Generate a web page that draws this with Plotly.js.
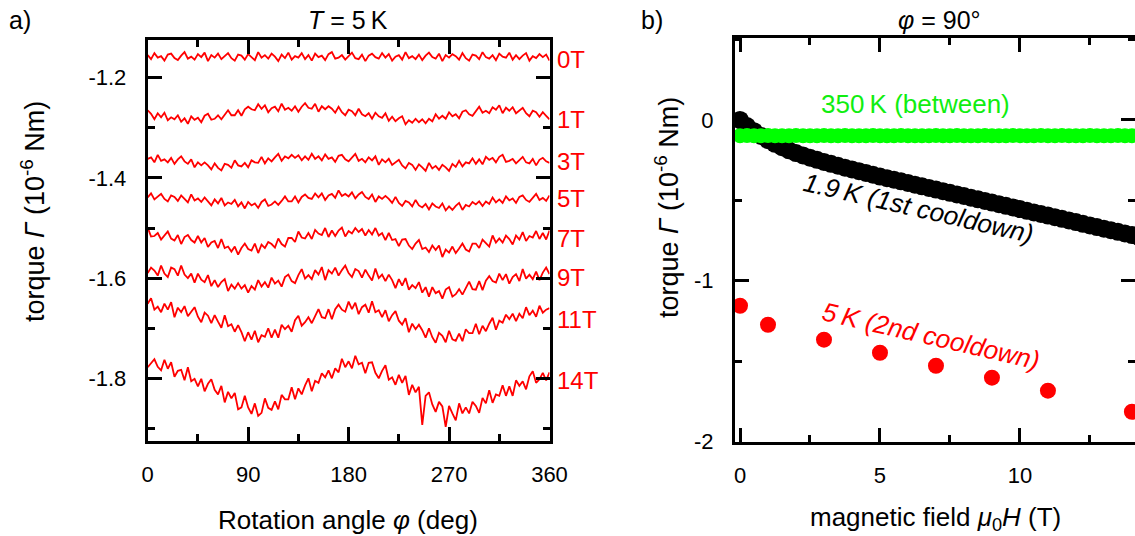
<!DOCTYPE html>
<html><head><meta charset="utf-8">
<script src="https://cdn.plot.ly/plotly-3.0.1.min.js"></script>
<style>html,body{margin:0;padding:0;background:#fff}</style>
</head><body><div id="chart" style="width:1135px;height:536px"></div>
<script>
// ---------- data: panel a) torque vs rotation angle at T = 5 K ----------
const angle = [0,3,6,9,12,15,18,21,24,27,30,33,36,39,42,45,48,51,54,57,60,63,66,69,72,75,78,81,84,87,
90,93,96,99,102,105,108,111,114,117,120,123,126,129,132,135,138,141,144,147,150,153,156,159,162,165,168,171,174,177,
180,183,186,189,192,195,198,201,204,207,210,213,216,219,222,225,228,231,234,237,240,243,246,249,252,255,258,261,264,267,
270,273,276,279,282,285,288,291,294,297,300,303,306,309,312,315,318,321,324,327,330,333,336,339,342,345,348,351,354,357,360];

const torque0T = [-1.155,-1.163,-1.151,-1.160,-1.157,-1.166,-1.154,-1.152,-1.161,-1.165,
-1.156,-1.149,-1.162,-1.158,-1.164,-1.153,-1.159,-1.150,-1.167,-1.155,
-1.160,-1.152,-1.163,-1.157,-1.151,-1.161,-1.166,-1.154,-1.156,-1.164,
-1.153,-1.159,-1.165,-1.149,-1.160,-1.155,-1.162,-1.152,-1.158,-1.167,
-1.154,-1.161,-1.150,-1.164,-1.157,-1.160,-1.151,-1.163,-1.155,-1.166,
-1.152,-1.159,-1.156,-1.165,-1.153,-1.149,-1.162,-1.160,-1.155,-1.164,
-1.157,-1.150,-1.161,-1.163,-1.154,-1.167,-1.156,-1.152,-1.159,-1.162,
-1.151,-1.160,-1.153,-1.166,-1.158,-1.155,-1.164,-1.149,-1.161,-1.157,
-1.163,-1.154,-1.165,-1.156,-1.150,-1.159,-1.162,-1.152,-1.167,-1.155,
-1.160,-1.153,-1.157,-1.164,-1.151,-1.161,-1.166,-1.154,-1.156,-1.163,
-1.149,-1.159,-1.162,-1.155,-1.165,-1.152,-1.158,-1.160,-1.150,-1.164,
-1.155,-1.163,-1.156,-1.151,-1.166,-1.157,-1.161,-1.153,-1.159,-1.154,-1.166];

const torque1T = [-1.265,-1.272,-1.283,-1.271,-1.279,-1.270,-1.285,-1.279,-1.283,-1.275,
-1.288,-1.281,-1.292,-1.277,-1.284,-1.280,-1.289,-1.276,-1.272,-1.284,
-1.282,-1.275,-1.283,-1.274,-1.265,-1.275,-1.275,-1.265,-1.276,-1.263,
-1.258,-1.263,-1.265,-1.253,-1.262,-1.255,-1.269,-1.261,-1.258,-1.267,
-1.252,-1.264,-1.260,-1.266,-1.257,-1.268,-1.258,-1.251,-1.260,-1.262,
-1.252,-1.268,-1.257,-1.263,-1.257,-1.262,-1.270,-1.258,-1.269,-1.275,
-1.264,-1.267,-1.275,-1.262,-1.273,-1.277,-1.271,-1.282,-1.270,-1.277,
-1.280,-1.271,-1.286,-1.278,-1.287,-1.281,-1.277,-1.293,-1.285,-1.290,
-1.282,-1.289,-1.283,-1.291,-1.282,-1.287,-1.273,-1.282,-1.276,-1.282,
-1.269,-1.277,-1.273,-1.281,-1.268,-1.265,-1.273,-1.276,-1.266,-1.258,
-1.270,-1.266,-1.271,-1.259,-1.264,-1.255,-1.271,-1.260,-1.266,-1.259,
-1.271,-1.266,-1.260,-1.271,-1.277,-1.266,-1.269,-1.278,-1.269,-1.276,-1.283];

const torque3T = [-1.362,-1.359,-1.369,-1.354,-1.366,-1.363,-1.369,-1.360,-1.372,-1.363,
-1.357,-1.367,-1.372,-1.363,-1.379,-1.369,-1.375,-1.369,-1.375,-1.383,
-1.371,-1.380,-1.385,-1.372,-1.374,-1.380,-1.365,-1.375,-1.377,-1.370,
-1.379,-1.365,-1.369,-1.370,-1.358,-1.371,-1.361,-1.367,-1.359,-1.352,
-1.366,-1.357,-1.361,-1.354,-1.360,-1.355,-1.365,-1.357,-1.364,-1.352,
-1.362,-1.357,-1.365,-1.353,-1.362,-1.359,-1.368,-1.356,-1.354,-1.363,
-1.367,-1.359,-1.352,-1.366,-1.362,-1.369,-1.359,-1.365,-1.357,-1.374,
-1.363,-1.369,-1.362,-1.374,-1.369,-1.364,-1.375,-1.381,-1.370,-1.374,
-1.384,-1.373,-1.379,-1.386,-1.370,-1.381,-1.376,-1.384,-1.374,-1.379,
-1.386,-1.372,-1.378,-1.366,-1.377,-1.369,-1.371,-1.361,-1.372,-1.363,
-1.373,-1.358,-1.364,-1.360,-1.369,-1.358,-1.354,-1.368,-1.366,-1.362,
-1.371,-1.364,-1.358,-1.369,-1.371,-1.362,-1.375,-1.364,-1.360,-1.367,-1.370];

const torque5T = [-1.439,-1.431,-1.443,-1.437,-1.432,-1.442,-1.447,-1.435,-1.438,-1.446,
-1.435,-1.442,-1.449,-1.433,-1.445,-1.441,-1.448,-1.439,-1.446,-1.455,
-1.443,-1.451,-1.440,-1.455,-1.449,-1.452,-1.444,-1.457,-1.449,-1.461,
-1.448,-1.455,-1.451,-1.460,-1.448,-1.443,-1.456,-1.453,-1.447,-1.454,
-1.446,-1.437,-1.447,-1.447,-1.437,-1.449,-1.438,-1.433,-1.440,-1.442,
-1.431,-1.439,-1.431,-1.444,-1.435,-1.432,-1.440,-1.425,-1.436,-1.432,
-1.437,-1.429,-1.441,-1.433,-1.428,-1.438,-1.442,-1.433,-1.448,-1.437,
-1.442,-1.436,-1.442,-1.450,-1.438,-1.450,-1.456,-1.446,-1.449,-1.457,
-1.444,-1.455,-1.459,-1.452,-1.463,-1.451,-1.457,-1.460,-1.451,-1.465,
-1.457,-1.464,-1.456,-1.450,-1.464,-1.454,-1.457,-1.448,-1.453,-1.447,
-1.456,-1.447,-1.452,-1.439,-1.449,-1.443,-1.450,-1.437,-1.445,-1.441,
-1.450,-1.438,-1.435,-1.444,-1.448,-1.439,-1.432,-1.444,-1.440,-1.446,-1.435];

const torque7T = [-1.499,-1.517,-1.516,-1.510,-1.523,-1.515,-1.507,-1.521,-1.525,-1.514,
-1.532,-1.518,-1.514,-1.524,-1.529,-1.516,-1.529,-1.520,-1.538,-1.529,
-1.526,-1.540,-1.522,-1.540,-1.537,-1.547,-1.537,-1.553,-1.540,-1.531,
-1.542,-1.545,-1.531,-1.550,-1.533,-1.540,-1.528,-1.532,-1.539,-1.521,
-1.532,-1.537,-1.520,-1.520,-1.528,-1.507,-1.519,-1.521,-1.510,-1.522,
-1.504,-1.511,-1.514,-1.500,-1.518,-1.505,-1.516,-1.505,-1.499,-1.517,
-1.506,-1.511,-1.500,-1.508,-1.502,-1.515,-1.504,-1.513,-1.500,-1.515,
-1.510,-1.524,-1.510,-1.524,-1.522,-1.536,-1.523,-1.522,-1.535,-1.542,
-1.531,-1.524,-1.542,-1.539,-1.548,-1.535,-1.544,-1.535,-1.558,-1.543,
-1.549,-1.537,-1.550,-1.541,-1.531,-1.543,-1.547,-1.531,-1.531,-1.540,
-1.523,-1.530,-1.537,-1.515,-1.529,-1.521,-1.529,-1.515,-1.522,-1.533,
-1.515,-1.523,-1.508,-1.526,-1.516,-1.519,-1.506,-1.522,-1.510,-1.523,-1.505];

const torque9T = [-1.590,-1.579,-1.585,-1.595,-1.575,-1.591,-1.598,-1.579,-1.582,-1.595,
-1.575,-1.593,-1.600,-1.591,-1.609,-1.591,-1.603,-1.608,-1.594,-1.616,
-1.604,-1.618,-1.608,-1.602,-1.626,-1.613,-1.621,-1.610,-1.621,-1.614,
-1.629,-1.616,-1.623,-1.604,-1.617,-1.608,-1.619,-1.599,-1.611,-1.605,
-1.617,-1.598,-1.593,-1.606,-1.610,-1.594,-1.582,-1.601,-1.594,-1.602,
-1.584,-1.593,-1.578,-1.604,-1.584,-1.591,-1.579,-1.595,-1.584,-1.575,
-1.590,-1.598,-1.582,-1.586,-1.599,-1.583,-1.595,-1.605,-1.581,-1.600,
-1.593,-1.606,-1.593,-1.604,-1.620,-1.602,-1.615,-1.600,-1.623,-1.614,
-1.620,-1.608,-1.629,-1.618,-1.637,-1.618,-1.630,-1.626,-1.641,-1.623,
-1.618,-1.637,-1.632,-1.622,-1.633,-1.620,-1.607,-1.622,-1.623,-1.606,
-1.624,-1.605,-1.596,-1.606,-1.609,-1.591,-1.604,-1.592,-1.611,-1.598,
-1.592,-1.606,-1.582,-1.601,-1.593,-1.602,-1.587,-1.604,-1.589,-1.579,-1.592];

const torque11T = [-1.651,-1.640,-1.663,-1.657,-1.668,-1.651,-1.663,-1.648,-1.678,-1.659,
-1.668,-1.656,-1.676,-1.666,-1.658,-1.677,-1.688,-1.669,-1.675,-1.690,
-1.674,-1.687,-1.699,-1.674,-1.696,-1.692,-1.707,-1.694,-1.708,-1.726,
-1.708,-1.723,-1.705,-1.728,-1.714,-1.717,-1.700,-1.719,-1.703,-1.719,
-1.693,-1.702,-1.695,-1.707,-1.684,-1.675,-1.695,-1.688,-1.678,-1.690,
-1.676,-1.662,-1.678,-1.680,-1.662,-1.682,-1.662,-1.653,-1.663,-1.667,
-1.647,-1.662,-1.649,-1.672,-1.658,-1.653,-1.669,-1.646,-1.668,-1.664,
-1.678,-1.664,-1.686,-1.674,-1.666,-1.685,-1.693,-1.680,-1.708,-1.691,
-1.702,-1.693,-1.704,-1.719,-1.700,-1.718,-1.729,-1.709,-1.715,-1.728,
-1.705,-1.722,-1.725,-1.711,-1.726,-1.702,-1.710,-1.710,-1.691,-1.712,
-1.695,-1.706,-1.691,-1.679,-1.703,-1.685,-1.689,-1.673,-1.682,-1.671,
-1.686,-1.671,-1.680,-1.658,-1.674,-1.665,-1.677,-1.655,-1.669,-1.663,-1.660];

const torque14T = [-1.778,-1.770,-1.762,-1.777,-1.784,-1.763,-1.781,-1.768,-1.797,-1.785,
-1.783,-1.804,-1.778,-1.806,-1.801,-1.816,-1.801,-1.826,-1.811,-1.802,
-1.823,-1.832,-1.815,-1.848,-1.827,-1.840,-1.829,-1.862,-1.858,-1.835,
-1.858,-1.871,-1.850,-1.875,-1.869,-1.840,-1.859,-1.863,-1.846,-1.862,
-1.833,-1.842,-1.842,-1.818,-1.842,-1.820,-1.832,-1.814,-1.800,-1.826,
-1.805,-1.809,-1.790,-1.798,-1.784,-1.800,-1.780,-1.788,-1.761,-1.778,
-1.766,-1.780,-1.755,-1.772,-1.769,-1.790,-1.769,-1.768,-1.789,-1.800,
-1.785,-1.774,-1.803,-1.798,-1.813,-1.793,-1.809,-1.795,-1.833,-1.813,
-1.828,-1.817,-1.893,-1.835,-1.828,-1.852,-1.867,-1.847,-1.856,-1.897,
-1.855,-1.870,-1.884,-1.850,-1.870,-1.858,-1.870,-1.847,-1.855,-1.869,
-1.839,-1.850,-1.824,-1.849,-1.832,-1.835,-1.814,-1.835,-1.816,-1.835,
-1.804,-1.815,-1.806,-1.822,-1.796,-1.786,-1.809,-1.802,-1.789,-1.804,-1.788];

const fieldLabels = ['0T','1T','3T','5T','7T','9T','11T','14T'];
const angleTicks = [0,90,180,270,360];
const angleTickText = ['0','90','180','270','360'];
const torqueTicksA = [-1.2,-1.4,-1.6,-1.8];
const torqueTickTextA = ['-1.2','-1.4','-1.6','-1.8'];

// ---------- data: panel b) torque vs field at phi = 90 deg ----------
const field19K = [0,0.25,0.5,0.75,1,1.25,1.5,1.75,2,2.25,2.5,2.75,3,3.25,3.5,3.75,4,4.25,4.5,4.75,
5,5.25,5.5,5.75,6,6.25,6.5,6.75,7,7.25,7.5,7.75,8,8.25,8.5,8.75,9,9.25,9.5,9.75,
10,10.25,10.5,10.75,11,11.25,11.5,11.75,12,12.25,12.5,12.75,13,13.25,13.5,13.75,14,14.25];
const torque19K = [0.000,-0.038,-0.070,-0.100,-0.126,-0.149,-0.170,-0.189,-0.206,-0.221,-0.235,-0.248,-0.261,-0.273,-0.285,-0.297,-0.308,-0.319,-0.330,-0.341,
-0.352,-0.362,-0.372,-0.382,-0.392,-0.403,-0.413,-0.423,-0.433,-0.443,-0.453,-0.463,-0.473,-0.484,-0.494,-0.504,-0.514,-0.524,-0.534,-0.544,
-0.554,-0.565,-0.575,-0.585,-0.595,-0.605,-0.615,-0.625,-0.635,-0.646,-0.656,-0.666,-0.676,-0.686,-0.696,-0.706,-0.716,-0.727];
const field350K = [0,0.25,0.5,0.75,1,1.25,1.5,1.75,2,2.25,2.5,2.75,3,3.25,3.5,3.75,4,4.25,4.5,4.75,
5,5.25,5.5,5.75,6,6.25,6.5,6.75,7,7.25,7.5,7.75,8,8.25,8.5,8.75,9,9.25,9.5,9.75,
10,10.25,10.5,10.75,11,11.25,11.5,11.75,12,12.25,12.5,12.75,13,13.25,13.5,13.75,14,14.25];
const torque350K = [-0.098,-0.097,-0.099,-0.098,-0.097,-0.098,-0.099,-0.098,-0.097,-0.098,-0.098,-0.099,-0.097,-0.098,-0.098,-0.097,-0.099,-0.098,-0.098,-0.097,
-0.098,-0.099,-0.098,-0.097,-0.098,-0.098,-0.099,-0.098,-0.097,-0.098,-0.098,-0.097,-0.099,-0.098,-0.098,-0.097,-0.098,-0.099,-0.098,-0.097,
-0.098,-0.098,-0.099,-0.097,-0.098,-0.098,-0.097,-0.099,-0.098,-0.098,-0.097,-0.098,-0.099,-0.098,-0.097,-0.098,-0.098,-0.098];
const field5K = [0,1,3,5,7,9,11,14];
const torque5K = [-1.155,-1.273,-1.366,-1.447,-1.528,-1.602,-1.683,-1.814];
const fieldTicks = [0,5,10];
const fieldTickText = ['0','5','10'];
const torqueTicksB = [0,-1,-2];
const torqueTickTextB = ['0','-1','-2'];

// ---------- figure ----------
const FONT = 'Liberation Sans, Arial, Helvetica, sans-serif';
const W = 1135, H = 536;
const px = v => v / W;
const py = v => 1 - v / H;
const RED = '#ff0000', GREEN = '#00ff00';

const seriesA = [torque0T, torque1T, torque3T, torque5T, torque7T, torque9T, torque11T, torque14T];
// pixel rows where the field labels sit (layout only)
const labelRowsPx = [60, 120, 161, 199, 238, 277, 319, 380];

const traces = seriesA.map((ys, i) => ({
  x: angle, y: ys, type: 'scatter', mode: 'lines',
  line: {color: RED, width: 1.8}, xaxis: 'x', yaxis: 'y', name: fieldLabels[i], hoverinfo: 'skip'
}));
traces.push({x: field5K, y: torque5K, type: 'scatter', mode: 'markers',
  marker: {color: RED, size: 16, line: {width: 0}}, xaxis: 'x2', yaxis: 'y2', name: '5K'});
traces.push({x: field19K, y: torque19K, type: 'scatter', mode: 'markers',
  marker: {color: '#000', size: 18, line: {width: 0}}, xaxis: 'x2', yaxis: 'y2', name: '1.9K'});
traces.push({x: field350K, y: torque350K, type: 'scatter', mode: 'markers',
  marker: {color: GREEN, size: 15, line: {width: 0}}, xaxis: 'x2', yaxis: 'y2', name: '350K'});

const axisBase = {
  showline: true, linewidth: 3, linecolor: '#000', mirror: 'ticks',
  ticks: 'inside', ticklen: 14, tickwidth: 3, tickcolor: '#000',
  showgrid: false, zeroline: false, tickmode: 'array',
  tickfont: {family: FONT, size: 22, color: '#000'}
};

const annotations = [];
const ann = (o) => annotations.push(Object.assign({showarrow: false, font: {family: FONT, size: 25, color: '#000'}}, o));

ann({text: 'a)', xref: 'paper', yref: 'paper', x: px(7), y: py(20), xanchor: 'left', yanchor: 'middle'});
ann({text: 'b)', xref: 'paper', yref: 'paper', x: px(639), y: py(20), xanchor: 'left', yanchor: 'middle'});
ann({text: '<i>T</i> = 5\u2009K', xref: 'paper', yref: 'paper', x: px(348), y: py(20), xanchor: 'center', yanchor: 'middle'});
ann({text: '<i>φ</i> = 90°', xref: 'paper', yref: 'paper', x: px(939), y: py(20), xanchor: 'center', yanchor: 'middle'});
ann({text: 'Rotation angle <i>φ</i> (deg)', xref: 'paper', yref: 'paper', x: px(348), y: py(520), xanchor: 'center', yanchor: 'middle',
     font: {family: FONT, size: 26, color: '#000'}});
ann({text: 'magnetic field <i>μ</i><sub>0</sub><i>H</i> (T)', xref: 'paper', yref: 'paper', x: px(935), y: py(518), xanchor: 'center', yanchor: 'middle',
     font: {family: FONT, size: 26, color: '#000'}});
ann({text: 'torque <i>Γ</i> (10<sup>-6</sup> Nm)', xref: 'paper', yref: 'paper', x: px(33), y: py(212), xanchor: 'center', yanchor: 'middle', textangle: -90,
     font: {family: FONT, size: 27, color: '#000'}});
ann({text: 'torque <i>Γ</i> (10<sup>-6</sup> Nm)', xref: 'paper', yref: 'paper', x: px(667), y: py(208), xanchor: 'center', yanchor: 'middle', textangle: -90,
     font: {family: FONT, size: 27, color: '#000'}});

fieldLabels.forEach((lab, i) => {
  ann({text: lab, xref: 'paper', yref: 'paper', x: px(555), y: py(labelRowsPx[i]),
       xanchor: 'left', yanchor: 'middle', font: {family: FONT, size: 24, color: RED}});
});

ann({text: '350\u2009K (between)', xref: 'paper', yref: 'paper', x: px(915), y: py(104), xanchor: 'center', yanchor: 'middle',
     font: {family: FONT, size: 26, color: '#10ee10'}});
ann({text: '<i>1.9\u2009K (1st cooldown)</i>', xref: 'paper', yref: 'paper', x: px(918), y: py(208), xanchor: 'center', yanchor: 'middle',
     textangle: 13, font: {family: FONT, size: 26, color: '#000'}});
ann({text: '<i>5\u2009K (2nd cooldown)</i>', xref: 'paper', yref: 'paper', x: px(931), y: py(336), xanchor: 'center', yanchor: 'middle',
     textangle: 13, font: {family: FONT, size: 26, color: RED}});

const layout = {
  width: W, height: H, margin: {l: 0, r: 0, t: 0, b: 0}, showlegend: false,
  paper_bgcolor: '#fff', plot_bgcolor: 'rgba(0,0,0,0)',
  font: {family: FONT, size: 22, color: '#000'},
  xaxis: Object.assign({}, axisBase, {
    domain: [px(147.7), px(549.5)], range: [0, 360], anchor: 'y',
    tickvals: angleTicks, ticktext: angleTickText, ticklabelstandoff: 12,
    minor: {ticks: 'inside', ticklen: 7, tickwidth: 3, tickcolor: '#000', tickmode: 'linear', tick0: 0, dtick: 45, showgrid: false}
  }),
  yaxis: Object.assign({}, axisBase, {
    domain: [py(441), py(40)], range: [-1.9251, -1.1248], anchor: 'x',
    tickvals: torqueTicksA, ticktext: torqueTickTextA, ticklabelstandoff: 14,
    minor: {ticks: 'inside', ticklen: 7, tickwidth: 3, tickcolor: '#000', tickmode: 'linear', tick0: -1.2, dtick: 0.1, showgrid: false}
  }),
  xaxis2: Object.assign({}, axisBase, {
    domain: [px(735), 1], range: [-0.179, 14.11], anchor: 'y2',
    tickvals: fieldTicks, ticktext: fieldTickText, ticklabelstandoff: 12,
    minor: {ticks: 'inside', ticklen: 7, tickwidth: 3, tickcolor: '#000', tickmode: 'linear', tick0: 0, dtick: 2.5, showgrid: false}
  }),
  yaxis2: Object.assign({}, axisBase, {
    domain: [py(441.7), py(38.3)], range: [-2, 0.507], anchor: 'x2',
    tickvals: torqueTicksB, ticktext: torqueTickTextB, ticklabelstandoff: 14,
    minor: {ticks: 'inside', ticklen: 7, tickwidth: 3, tickcolor: '#000', tickmode: 'linear', tick0: 0, dtick: 0.5, showgrid: false}
  }),
  annotations: annotations
};

Plotly.newPlot('chart', traces, layout, {displayModeBar: false, staticPlot: true});
</script>
</body></html>
